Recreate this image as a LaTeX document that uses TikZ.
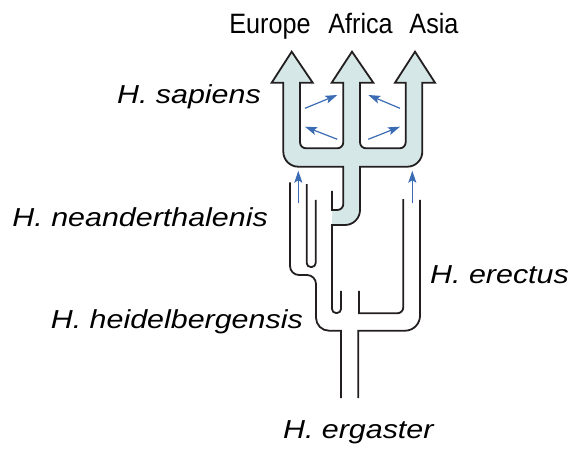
\documentclass[tikz,border=0pt]{standalone}
\usepackage{fontspec}
\setmainfont{Liberation Sans}
\newfontfamily\regionfont[FakeStretch=0.9]{Liberation Sans}
\newfontfamily\speciesfont[FakeStretch=1.17]{Liberation Sans}
\usetikzlibrary{arrows.meta}
\definecolor{lineageteal}{RGB}{213,231,231}
\definecolor{flowblue}{RGB}{59,108,179}
\definecolor{wallgray}{RGB}{35,31,32}

\begin{document}
\begin{tikzpicture}[
        x=1pt, y=-1pt,
        wall/.style={draw=wallgray, line width=1.8pt, line cap=rect},
        sapiens/.style={wall, fill=lineageteal},
        flow/.style={flowblue, line width=1.2pt, -{Stealth[length=12pt, width=8pt, inset=2.5pt]}},
        region/.style={font=\regionfont\fontsize{28}{30}\selectfont, inner sep=0pt},
        species/.style={font=\speciesfont\itshape\fontsize{26}{28}\selectfont, inner sep=0pt}
    ]
        \useasboundingbox (0,0) rectangle (573,450);

        % H. sapiens trident
        \filldraw[sapiens] (332,191.7) -- (332,210)
            [rounded corners=6] -- (343.3,210)
            [sharp corners] -- (343.3,166.7)
            [rounded corners=15] -- (283.3,166.7)
            [sharp corners] -- (283.3,82.7) -- (271.7,82.7) -- (291.7,51.7) -- (312.7,82.7) -- (300,82.7)
            [rounded corners=6] -- (300,148.3) -- (343.3,148.3)
            [sharp corners] -- (343.3,82.7) -- (331.7,82.7) -- (352,51.7) -- (373.3,82.7) -- (360,82.7)
            [rounded corners=6] -- (360,148.3) -- (405.7,148.3)
            [sharp corners] -- (405.7,82.7) -- (395,82.7) -- (415,51.7) -- (435,82.7) -- (422.3,82.7)
            [rounded corners=15] -- (422.3,166.7)
            [sharp corners] -- (360,166.7)
            [rounded corners=15] -- (360,225)
            [sharp corners] -- (332,225);

        % Outer walls
        \draw[wall] (290,183.3)
            [rounded corners=9] -- (290,275) -- (316,275)
            [rounded corners=13] -- (316,330.7)
            [sharp corners] -- (341,330.7) -- (341,397.3);
        \draw[wall] (358.3,397.3) -- (358.3,330.7)
            [rounded corners=15] -- (420,330.7) -- (420,200.7);

        % Inner walls
        \draw[wall] (306.7,185)
            [rounded corners=4] -- (306.7,267) -- (315.7,267) -- (315.7,200.7);
        \draw[wall] (332,225)
            [rounded corners=4] -- (332,313) -- (341,313) -- (341,291.7);
        \draw[wall] (359,291.7) -- (359,313.3)
            [rounded corners=6] -- (403.3,313.3) -- (403.3,200);

        % Gene flow
        \draw[flow] (298.3,203.3) -- (298.3,170.7);
        \draw[flow] (412.3,203.3) -- (412.3,170.7);
        \draw[flow] (305,108.3) -- (337.3,95);
        \draw[flow] (337.3,139.3) -- (305,126.7);
        \draw[flow] (400,108.3) -- (368.3,95);
        \draw[flow] (368.3,139.3) -- (400,126.7);

        % Regions
        \node[region, anchor=base] (europe) at (270,33.3) {Europe};
        \node[region, anchor=base] (africa) at (360.5,33.3) {Africa};
        \node[region, anchor=base] (asia) at (434,33.3) {Asia};

        % Species
        \node[species, anchor=base east] (sapiensname) at (261,103.3) {H. sapiens};
        \node[species, anchor=base east] (neandername) at (268,226) {H. neanderthalenis};
        \node[species, anchor=base west] (erectusname) at (430,283.3) {H. erectus};
        \node[species, anchor=base east] (heidelname) at (303,328.5) {H. heidelbergensis};
        \node[species, anchor=base] (ergastername) at (358.3,438.3) {H. ergaster};
    \end{tikzpicture}
\end{document}
